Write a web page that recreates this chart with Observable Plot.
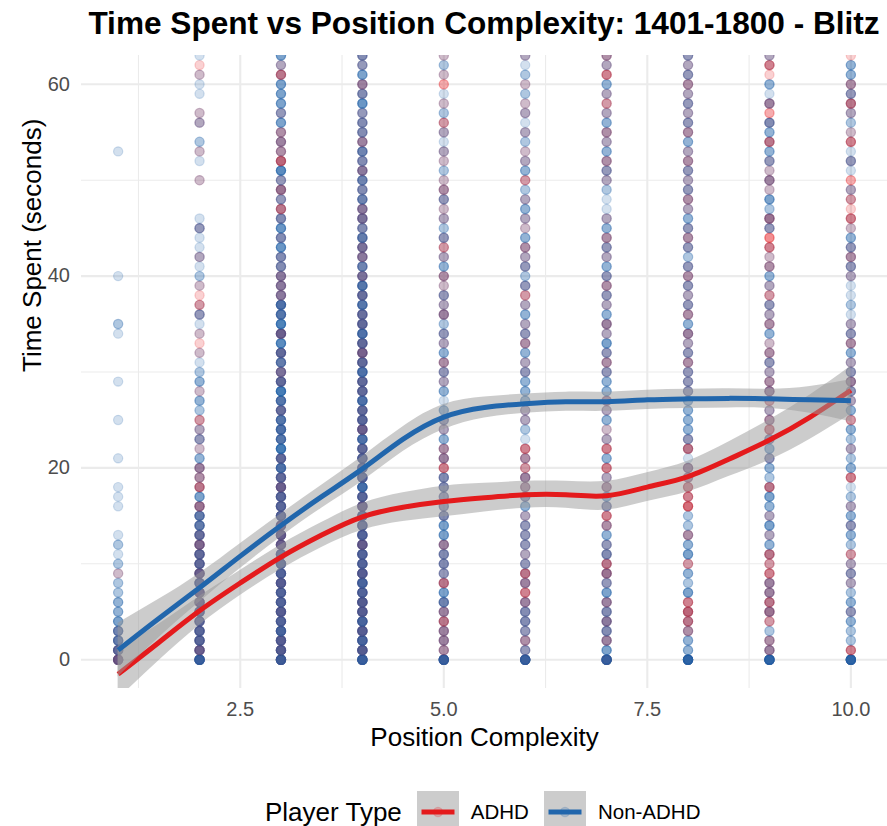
<!DOCTYPE html>
<html>
<head>
<meta charset="utf-8">
<script src="https://cdn.jsdelivr.net/npm/d3@7"></script>
<script src="https://cdn.jsdelivr.net/npm/@observablehq/plot@0.6"></script>
<style>
  body { margin: 0; background: #fff; font-family: "Liberation Sans", Arial, Helvetica, sans-serif; }
  #chart { position: relative; width: 887px; height: 826px; overflow: hidden; background: #fff; }
  #plot { position: absolute; left: 0; top: 0; }
  #title { position: absolute; left: 81px; width: 806px; top: 8px; text-align: center; font-weight: bold;
           font-size: 31.6px; line-height: 31.6px; color: #000; white-space: nowrap; }
  #legend { position: absolute; left: 265px; top: 791px; height: 42px; display: flex; align-items: center; color: #000; }
  #legend .ltitle { font-size: 26px; line-height: 26px; margin-right: 15px; }
  #legend .llabel { font-size: 20.5px; line-height: 20.5px; }
  #legend svg { display: block; }
</style>
</head>
<body>
<div id="chart">
  <div id="plot"></div>
  <div id="title">Time Spent vs Position Complexity: 1401-1800 - Blitz</div>
  <div id="legend"></div>
</div>
<script>
// Position complexity levels (x) and observation counts per whole second (0..63 s).
// Each string holds one count per second, in base 36, for one complexity level.
const complexity = [1, 2, 3, 4, 5, 6, 7, 8, 9, 10];

const adhdCounts = [
  "4211000001" + "0000000000" + "0000000000" + "0000000000" + "0000000000" + "0000000000" + "0000",
  "2322223323" + "2232113032" + "2011120010" + "0011101211" + "0010010000" + "1001001100" + "0110",
  "3332232232" + "2233322232" + "1201112102" + "2120301122" + "2110101313" + "1042220100" + "0310",
  "2323233223" + "2232223212" + "2221322122" + "1232122121" + "2122112211" + "1211211101" + "2011",
  "2222321031" + "1120011111" + "3220110001" + "1201102111" + "2012101112" + "1011012010" + "2101",
  "2121112323" + "1111110122" + "2230011000" + "1102110121" + "0112011010" + "2011010110" + "1001",
  "2021212013" + "3110231021" + "3031101200" + "1210120112" + "1011201000" + "1120120121" + "0312",
  "1002343000" + "2002004332" + "2031000011" + "1211202111" + "2101210121" + "1121021111" + "2111",
  "1220233223" + "2301010030" + "0101321222" + "1121021121" + "0213313001" + "2110301220" + "0131",
  "1300010011" + "1200101003" + "0010020112" + "1102110000" + "1121013121" + "2010310131" + "2001"
];

const nonAdhdCounts = [
  "8765433221" + "2121001110" + "0100010001" + "0000120000" + "1000000000" + "0001000000" + "0000",
  "f788787887" + "7756663422" + "3313212313" + "2110113101" + "2121131000" + "1011202101" + "1101",
  "fa9a999999" + "9878788877" + "8787876787" + "5676777844" + "4445454233" + "3622324344" + "4224",
  "faa9a9a9a9" + "9989898898" + "8878787877" + "8767876767" + "5545645454" + "5445344354" + "3434",
  "f233235423" + "4434443344" + "1323233132" + "3232323231" + "2321322132" + "1212121211" + "0121",
  "f323443132" + "3233323323" + "1211222333" + "3232323213" + "2322312322" + "1321221212" + "1212",
  "f434443433" + "2433213322" + "1312132233" + "3234233232" + "3323232112" + "2323223212" + "3122",
  "f332221423" + "1432221112" + "3123333333" + "3232332323" + "2323233223" + "2322323232" + "2323",
  "f322132331" + "1232423422" + "3333122132" + "2321322312" + "3211033241" + "3133234031" + "3012",
  "f122333223" + "2123332211" + "3222313233" + "3232321211" + "2323311012" + "0131112223" + "2330"
];

// Loess fits (seconds) and half-widths of their 95% bands, sampled along complexity.
const fitX         = [1, 1.5, 2, 2.5, 3, 3.5, 4, 4.5, 5, 5.5, 6, 6.5, 7, 7.5, 8, 8.5, 9, 9.5, 10];
const adhdFit      = [-1.5, 1.8, 5.1, 8.0, 10.7, 13.0, 14.9, 15.9, 16.5, 16.9, 17.2, 17.2, 17.1, 18.0, 19.1, 20.9, 22.9, 25.3, 28.1];
const adhdBand     = [2.6, 1.9, 1.5, 1.3, 1.3, 1.3, 1.4, 1.5, 1.6, 1.5, 1.4, 1.4, 1.5, 1.5, 1.6, 1.8, 2.1, 2.3, 2.5];
const nonAdhdFit   = [1.0, 4.3, 7.5, 10.8, 14.0, 17.0, 19.9, 23.0, 25.3, 26.3, 26.7, 26.9, 26.9, 27.1, 27.2, 27.25, 27.2, 27.1, 27.0];
const nonAdhdBand  = [2.8, 2.0, 1.5, 1.3, 1.2, 1.2, 1.3, 1.3, 1.3, 1.1, 1.0, 1.0, 1.0, 1.0, 1.0, 1.0, 1.0, 1.4, 2.2];

const groups = ["ADHD", "Non-ADHD"];
const groupColors = ["#e41a1c", "#2166ac"];

const xTicks = [2.5, 5, 7.5, 10];
const xMinor = [1.25, 3.75, 6.25, 8.75];
const yTicks = [0, 20, 40, 60];
const yMinor = [10, 30, 50];

// Expand the per-second counts into individual observations, interleaving the two groups
const points = [];
complexity.forEach((cx, i) => {
  const a = adhdCounts[i], n = nonAdhdCounts[i];
  for (let s = 0; s < a.length; s++) {
    const nr = parseInt(a[s], 36), nb = parseInt(n[s], 36);
    const cell = [];
    for (let k = 0; k < nr; k++) cell.push({o: (k + 0.5) / nr, group: groups[0]});
    for (let k = 0; k < nb; k++) cell.push({o: (k + 0.5) / nb, group: groups[1]});
    cell.sort((p, q) => p.o - q.o);
    for (const p of cell) points.push({complexity: cx, seconds: s, group: p.group});
  }
});

const smoothRows = (fit, band) => fitX.map((x, i) => ({x, fit: fit[i], lo: fit[i] - band[i], hi: fit[i] + band[i]}));
const adhdRows = smoothRows(adhdFit, adhdBand);
const nonAdhdRows = smoothRows(nonAdhdFit, nonAdhdBand);

const gridColor = "#ebebeb";
const bandFill = "#999999";

const chart = Plot.plot({
  width: 887,
  height: 770,
  marginLeft: 81,
  marginRight: 0,
  marginTop: 55,
  marginBottom: 82,
  style: {fontFamily: "'Liberation Sans', Arial, Helvetica, sans-serif", fontSize: "20px", background: "transparent"},
  x: {type: "linear", domain: [0.55, 10.45]},
  y: {type: "linear", domain: [-3, 63]},
  color: {domain: groups, range: groupColors},
  marks: [
    Plot.gridX({ticks: xMinor, stroke: gridColor, strokeOpacity: 1, strokeWidth: 1.1}),
    Plot.gridY({ticks: yMinor, stroke: gridColor, strokeOpacity: 1, strokeWidth: 1.1}),
    Plot.gridX({ticks: xTicks, stroke: gridColor, strokeOpacity: 1, strokeWidth: 2.1}),
    Plot.gridY({ticks: yTicks, stroke: gridColor, strokeOpacity: 1, strokeWidth: 2.1}),
    Plot.axisX({ticks: xTicks, tickFormat: d3.format(".1f"), tickSize: 0, tickPadding: 13, fontSize: 20, color: "#4d4d4d", label: null}),
    Plot.axisY({ticks: yTicks, tickFormat: d3.format("d"), tickSize: 0, tickPadding: 11.5, fontSize: 20, color: "#4d4d4d", label: null}),
    Plot.dot(points, {x: "complexity", y: "seconds", fill: "group", stroke: "group", r: 4.6,
                      fillOpacity: 0.2, strokeOpacity: 0.2, strokeWidth: 1.2, clip: true}),
    Plot.areaY(adhdRows, {x: "x", y1: "lo", y2: "hi", fill: bandFill, fillOpacity: 0.5, curve: "natural", clip: true}),
    Plot.line(adhdRows, {x: "x", y: "fit", stroke: groupColors[0], strokeWidth: 5, strokeLinecap: "butt", curve: "natural", clip: true}),
    Plot.areaY(nonAdhdRows, {x: "x", y1: "lo", y2: "hi", fill: bandFill, fillOpacity: 0.5, curve: "natural", clip: true}),
    Plot.line(nonAdhdRows, {x: "x", y: "fit", stroke: groupColors[1], strokeWidth: 5, strokeLinecap: "butt", curve: "natural", clip: true}),
    Plot.text(["Position Complexity"], {frameAnchor: "bottom", dy: 57, lineAnchor: "bottom", fontSize: 26, fill: "#000"}),
    Plot.text(["Time Spent (seconds)"], {frameAnchor: "left", dx: -41, rotate: -90, lineAnchor: "bottom", fontSize: 26, fill: "#000"})
  ]
});
document.getElementById("plot").appendChild(chart);

// Legend: line keys on a grey band swatch, one per player type
const legend = document.getElementById("legend");
const lt = document.createElement("span");
lt.className = "ltitle";
lt.textContent = "Player Type";
legend.appendChild(lt);
groups.forEach((g, i) => {
  const ns = "http://www.w3.org/2000/svg";
  const svg = document.createElementNS(ns, "svg");
  svg.setAttribute("width", 42);
  svg.setAttribute("height", 42);
  svg.innerHTML =
    `<rect width="42" height="42" fill="${bandFill}" fill-opacity="0.5"></rect>` +
    `<circle cx="21" cy="21" r="4.6" fill="${groupColors[i]}" fill-opacity="0.2" stroke="${groupColors[i]}" stroke-opacity="0.2" stroke-width="1.2"></circle>` +
    `<line x1="4.5" x2="37.5" y1="21" y2="21" stroke="${groupColors[i]}" stroke-width="5"></line>`;
  svg.style.marginRight = "12px";
  legend.appendChild(svg);
  const lab = document.createElement("span");
  lab.className = "llabel";
  lab.textContent = g;
  if (i === 0) lab.style.marginRight = "15px";
  legend.appendChild(lab);
});
</script>
</body>
</html>
